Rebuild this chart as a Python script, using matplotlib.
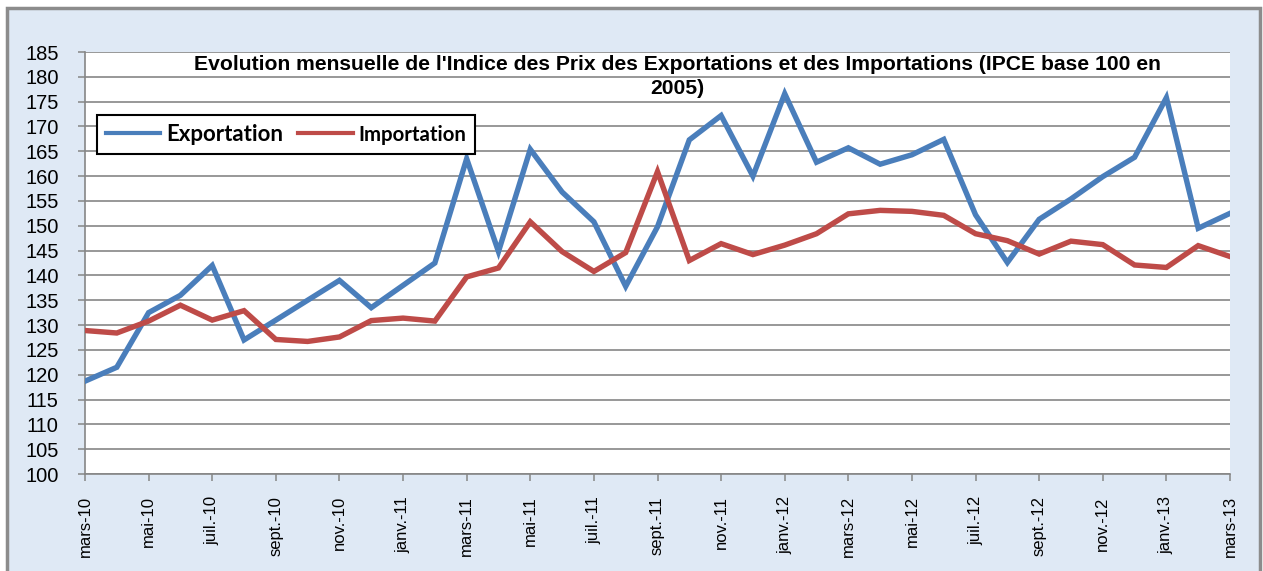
import matplotlib
matplotlib.use('Agg')
import matplotlib.pyplot as plt
from matplotlib.patches import Rectangle
from matplotlib import font_manager

# Monthly index values, mars-10 .. mars-13
months = ['mars-10', 'avr.-10', 'mai-10', 'juin-10', 'juil.-10', 'août-10',
          'sept.-10', 'oct.-10', 'nov.-10', 'déc.-10', 'janv.-11', 'févr.-11',
          'mars-11', 'avr.-11', 'mai-11', 'juin-11', 'juil.-11', 'août-11',
          'sept.-11', 'oct.-11', 'nov.-11', 'déc.-11', 'janv.-12', 'févr.-12',
          'mars-12', 'avr.-12', 'mai-12', 'juin-12', 'juil.-12', 'août-12',
          'sept.-12', 'oct.-12', 'nov.-12', 'déc.-12', 'janv.-13', 'févr.-13',
          'mars-13']

exportation = [118.7, 121.5, 132.5, 136.0, 142.0, 127.0, 131.0, 135.0, 139.0,
               133.5, 138.0, 142.5, 163.5, 144.8, 165.4, 156.8, 150.8, 137.8,
               149.8, 167.3, 172.2, 160.0, 176.6, 162.8, 165.7, 162.4, 164.3,
               167.4, 152.2, 142.6, 151.3, 155.4, 159.9, 163.8, 175.8, 149.5,
               152.5]

importation = [128.9, 128.4, 130.8, 134.0, 131.0, 132.9, 127.1, 126.7, 127.6,
               130.9, 131.4, 130.8, 139.7, 141.5, 150.8, 144.8, 140.8, 144.6,
               160.9, 143.0, 146.4, 144.2, 146.1, 148.4, 152.4, 153.1, 152.9,
               152.1, 148.4, 147.0, 144.3, 146.9, 146.2, 142.1, 141.6, 146.0,
               143.8]

title_l1 = "Evolution mensuelle de l'Indice des Prix des Exportations et des Importations (IPCE base 100 en"
title_l2 = "2005)"

W, H = 1263, 571
installed = {f.name for f in font_manager.fontManager.ttflist}
narrow = 'Liberation Sans Narrow' if 'Liberation Sans Narrow' in installed else 'Liberation Sans'
plt.rcParams['font.family'] = ['Liberation Sans', 'DejaVu Sans']

fig = plt.figure(figsize=(W / 100, H / 100), dpi=100, facecolor='white')

# textured-blue chart area with grey frame
frame = Rectangle((7 / W, -0.05), (1260 - 7) / W, 1.05 - 8 / H,
                  transform=fig.transFigure, facecolor='#dfe9f5',
                  edgecolor='#8c8c8c', linewidth=2.5, zorder=-10)
fig.patches.append(frame)

ax = fig.add_axes([85 / W, 1 - 474 / H, (1230 - 85) / W, (474 - 52) / H], zorder=1)
ax.set_facecolor('white')

x = list(range(len(months)))
ax.plot(x, exportation, color='#4a7ebb', linewidth=3.9, label='Exportation',
        solid_joinstyle='miter', zorder=3)
ax.plot(x, importation, color='#be4b48', linewidth=3.9, label='Importation',
        solid_joinstyle='miter', zorder=3)

ax.set_xlim(0, len(months) - 1)
ax.set_ylim(100, 185)
ax.set_yticks(range(100, 186, 5))
ax.set_xticks(x[::2])
ax.set_xticklabels(months[::2], rotation=90, fontsize=12, family=narrow)
ax.tick_params(axis='y', labelsize=14.5, length=5, width=1.1, color='#868686', pad=14)
ax.tick_params(axis='x', length=5, width=1.1, color='#868686', pad=11)
ax.grid(axis='y', color='#868686', linewidth=1.2)
ax.set_axisbelow(True)
for side in ['top', 'right']:
    ax.spines[side].set_visible(False)
for side in ['left', 'bottom']:
    ax.spines[side].set_color('#868686')
    ax.spines[side].set_linewidth(1.2)

fig.text(677 / W, 1 - 64 / H, title_l1, ha='center', va='center',
         fontsize=15.2, fontweight='bold', zorder=5)
fig.text(677 / W, 1 - 89 / H, title_l2, ha='center', va='center',
         fontsize=15.2, fontweight='bold', zorder=5)

leg = ax.legend(loc='upper left', bbox_to_anchor=(97 / W, 1 - 115 / H),
                bbox_transform=fig.transFigure, ncol=2, frameon=True,
                fancybox=False, borderaxespad=0, handlelength=2.45,
                handletextpad=0.25, columnspacing=0.7, borderpad=0.4,
                prop={'family': ['Lato', 'DejaVu Sans'], 'weight': 'bold', 'size': 16})
leg.get_frame().set_edgecolor('black')
leg.get_frame().set_linewidth(1.5)
leg.get_frame().set_alpha(1)
for line in leg.get_lines():
    line.set_linewidth(3)
leg.get_texts()[1].set_fontsize(14.7)

fig.savefig('out.png', dpi=100, facecolor=fig.get_facecolor())
